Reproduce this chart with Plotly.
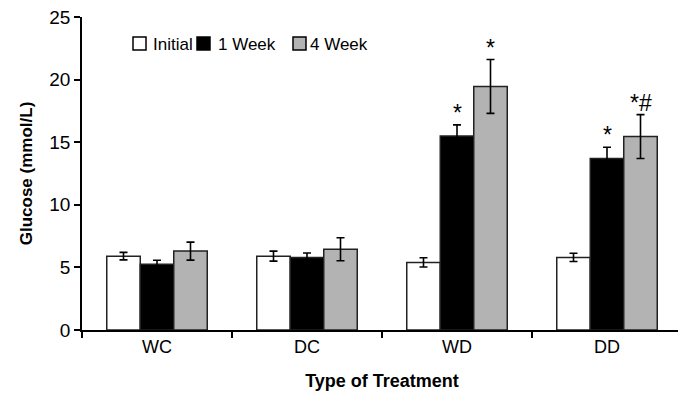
import plotly.graph_objects as go

categories = ["WC", "DC", "WD", "DD"]
initial = [5.9, 5.9, 5.4, 5.8]
initial_err = [0.3, 0.4, 0.37, 0.33]
week1 = [5.25, 5.8, 15.5, 13.7]
week1_err = [0.32, 0.35, 0.88, 0.9]
week4 = [6.3, 6.45, 19.45, 15.45]
week4_err = [0.72, 0.92, 2.15, 1.75]
marks = [("WD", "1 Week", "*"), ("WD", "4 Week", "*"), ("DD", "1 Week", "*"), ("DD", "4 Week", "*#")]

font = "Liberation Sans, Arial, sans-serif"
fig = go.Figure()
series = [("Initial", initial, initial_err, "white"),
          ("1 Week", week1, week1_err, "black"),
          ("4 Week", week4, week4_err, "#b3b3b3")]
for name, vals, errs, col in series:
    fig.add_trace(go.Bar(
        x=categories, y=vals, name=name,
        marker=dict(color=col, line=dict(color="#222222", width=1.5)),
        error_y=dict(type="data", array=errs, visible=True, color="black", thickness=1.6, width=4),
        showlegend=False,
    ))

bargap = 0.33
bw = (1 - bargap) / 3
offs = {"Initial": -bw, "1 Week": 0.0, "4 Week": bw}
lookup = {s[0]: (s[1], s[2]) for s in series}
for cat, ser, txt in marks:
    i = categories.index(cat)
    v, e = lookup[ser]
    fig.add_annotation(x=i + offs[ser], y=v[i] + e[i], xref="x", yref="y",
                       text=txt, showarrow=False, yanchor="bottom", yshift=-3,
                       font=dict(family=font, size=23, color="black"))

# compact legend (pixel layout of the reference)
ML, MT, PW, PH = 74, 9, 600, 313
def px(sx):
    return (sx - 8 - ML) / PW
def py(sy):
    return (MT + PH - (sy - 8)) / PH
leg_sq = [133, 197, 293]
leg_tx = [151, 216, 308]
for (name, _, _, col), sq, tx in zip(series, leg_sq, leg_tx):
    fig.add_shape(type="rect", xref="paper", yref="paper",
                  x0=px(sq), x1=px(sq + 13), y0=py(50), y1=py(37),
                  fillcolor=col, line=dict(color="black", width=1.5))
    fig.add_annotation(xref="paper", yref="paper", x=px(tx), y=py(44),
                       text=name, showarrow=False, xanchor="left", yanchor="middle",
                       font=dict(family=font, size=17, color="black"))

fig.update_layout(
    width=686, height=405,
    margin=dict(l=ML, r=686 - ML - PW, t=MT, b=405 - MT - PH),
    paper_bgcolor="white", plot_bgcolor="white",
    barmode="group", bargap=bargap, bargroupgap=0,
    font=dict(family=font, size=18, color="black"),
    showlegend=False,
)
fig.update_xaxes(
    title=dict(text="<b>Type of Treatment</b>", font=dict(size=18), standoff=18),
    automargin=False,
    showline=True, linecolor="black", linewidth=1.5,
    ticks="outside", tickson="boundaries", ticklen=6, tickcolor="black", tickwidth=1.5,
    tickfont=dict(size=18), showgrid=False, range=[-0.5, 3.5],
)
fig.update_yaxes(
    title=dict(text="<b>Glucose (mmol/L)</b>", font=dict(size=17), standoff=12),
    automargin=False, ticklabeloverflow="allow",
    range=[0, 25], dtick=5, showline=True, linecolor="black", linewidth=1.5,
    ticks="outside", ticklen=6, tickcolor="black", tickwidth=1.5,
    tickfont=dict(size=19), showgrid=False, zeroline=False,
)
fig.write_html("out.html")
